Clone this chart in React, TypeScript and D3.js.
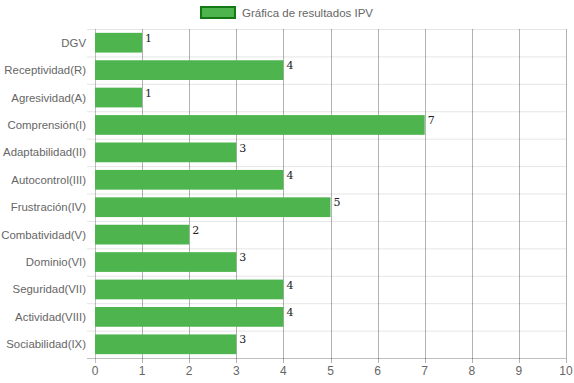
import React from "react";
import * as d3 from "d3";

const categories = [
  "DGV",
  "Receptividad(R)",
  "Agresividad(A)",
  "Comprensión(I)",
  "Adaptabilidad(II)",
  "Autocontrol(III)",
  "Frustración(IV)",
  "Combatividad(V)",
  "Dominio(VI)",
  "Seguridad(VII)",
  "Actividad(VIII)",
  "Sociabilidad(IX)",
];
const values = [1, 4, 1, 7, 3, 4, 5, 2, 3, 4, 4, 3];
const xTicks = [0, 1, 2, 3, 4, 5, 6, 7, 8, 9, 10];
const legendLabel = "Gráfica de resultados IPV";

export default function App() {
  const W = 574, H = 383;
  const left = 95, right = 566, top = 29, bottom = 358;
  const x = d3.scaleLinear().domain([0, 10]).range([left, right]);
  const y = d3.scaleBand().domain(categories).range([top, bottom]);
  const bw = y.bandwidth() * 0.72;
  const font = "Arial, 'Liberation Sans', Helvetica, sans-serif";
  const barFill = "rgb(78,180,78)";
  return (
    <svg width={W} height={H} style={{ position: "absolute", left: 0, top: 0 }}>
      <rect width={W} height={H} fill="#fff" />
      {/* legend */}
      <rect x={201} y={7} width={34} height={11} fill={barFill} stroke="rgb(20,120,20)" strokeWidth={2} />
      <text x={242} y={16.5} fontSize={11.5} fill="#666" fontFamily={font}>{legendLabel}</text>
      {/* horizontal grid lines (category boundaries) */}
      {categories.map((c, i) => (
        <line key={"h" + i} x1={left - 8} x2={right} y1={y(c)! + 0.5} y2={y(c)! + 0.5} stroke="rgba(0,0,0,0.1)" />
      ))}
      {/* vertical grid lines */}
      {xTicks.map((t) => (
        <line key={"v" + t} x1={Math.round(x(t)) + 0.5} x2={Math.round(x(t)) + 0.5} y1={top} y2={bottom + 5}
          stroke={t === 0 ? "rgba(0,0,0,0.25)" : "rgba(0,0,0,0.3)"} />
      ))}
      {/* bottom axis line */}
      <line x1={left - 8} x2={right} y1={bottom + 0.5} y2={bottom + 0.5} stroke="rgba(0,0,0,0.25)" />
      {/* bars */}
      {categories.map((c, i) => {
        const yc = y(c)! + y.bandwidth() / 2;
        return (
          <g key={"b" + i}>
            <rect x={x(0)} y={yc - bw / 2} width={x(values[i]) - x(0)} height={bw} fill={barFill} />
            <text x={x(values[i]) + 3} y={yc - bw / 2 + 9} fontSize={11} fill="#222" fontFamily="'DejaVu Serif', 'Liberation Serif', serif">{values[i]}</text>
            <text x={left - 9} y={yc + 4} fontSize={11.4} fill="#666" textAnchor="end" fontFamily={font}>{c}</text>
          </g>
        );
      })}
      {/* x tick labels */}
      {xTicks.map((t) => (
        <text key={"t" + t} x={x(t)} y={bottom + 17} fontSize={12} fill="#666" textAnchor="middle" fontFamily={font}>{t}</text>
      ))}
    </svg>
  );
}
